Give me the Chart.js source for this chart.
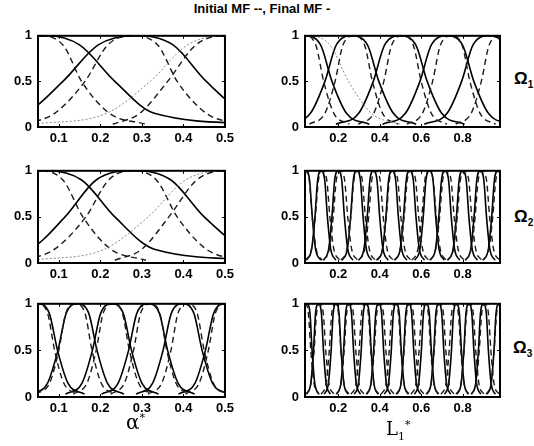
<!DOCTYPE html>
<html>
<head>
<meta charset="utf-8">
<script src="https://cdn.jsdelivr.net/npm/chart.js@4.4.1/dist/chart.umd.min.js"></script>
<style>
  body { margin: 0; background: #fff; }
  #fig { position: relative; width: 534px; height: 446px; overflow: hidden; font-family: 'Liberation Sans', Arial, sans-serif; color: #000; }
  #fig canvas { position: absolute; }
  .lbl { position: absolute; white-space: nowrap; line-height: 1; }
  .omega { font-size: 17px; font-weight: bold; }
  .omega sub { font-size: 10px; }
</style>
</head>
<body>
<div id="fig">
  <div class="lbl" style="left:0;width:524px;top:2px;text-align:center;font-size:13px;font-weight:bold">Initial MF --, Final MF -</div>

  <canvas id="o1-alpha"></canvas>
  <canvas id="o1-l"></canvas>
  <canvas id="o2-alpha"></canvas>
  <canvas id="o2-l"></canvas>
  <canvas id="o3-alpha"></canvas>
  <canvas id="o3-l"></canvas>

  <div class="lbl omega" style="left:514px;top:70px">Ω<sub>1</sub></div>
  <div class="lbl omega" style="left:514px;top:208px">Ω<sub>2</sub></div>
  <div class="lbl omega" style="left:513px;top:339px">Ω<sub>3</sub></div>

  <div class="lbl" style="left:126px;top:412px;font-size:20px;font-family:'DejaVu Serif',serif">α<sup style="font-size:11px">*</sup></div>
  <div class="lbl" style="left:386px;top:419px;font-size:18px;font-family:'DejaVu Serif',serif">L<sub style="font-size:11px">1</sub><sup style="font-size:11px">*</sup></div>
</div>

<script>
// membership grade at which each curve's x-values below were read
const MU_LEVELS = [0.03, 0.15, 0.5, 0.9, 1, 0.9, 0.5, 0.15, 0.03];

const muTicks    = [0, 0.5, 1];
const alphaTicks = [0.1, 0.2, 0.3, 0.4, 0.5];
const lTicks     = [0.2, 0.4, 0.6, 0.8];

// ── Ω1 ─────────────────────────────
const o1AlphaFinal = [
  [-0.44, -0.2, -0.1, -0.02, 0.07, 0.15, 0.235, 0.33, 0.6],
  [-0.15, 0.02, 0.11, 0.195, 0.285, 0.375, 0.455, 0.55, 0.72],
];
const o1AlphaGray = [
  [0.04, 0.215, 0.32, 0.41, 0.5, 0.59, 0.68, 0.785, 0.96],
];
const o1AlphaInit = [
  [-0.21, -0.122, -0.055, -0.01, 0.05, 0.11, 0.155, 0.222, 0.31],
  [0.02, 0.09, 0.163, 0.218, 0.275, 0.338, 0.385, 0.455, 0.53],
  [0.23, 0.295, 0.362, 0.43, 0.5, 0.57, 0.638, 0.705, 0.77],
];

const o1LFinal = [
  [-0.27, -0.16, -0.09, -0.035, 0.04, 0.115, 0.17, 0.24, 0.35],
  [-0.044, 0.066, 0.136, 0.191, 0.266, 0.341, 0.396, 0.466, 0.576],
  [0.189, 0.299, 0.369, 0.424, 0.499, 0.574, 0.629, 0.699, 0.809],
  [0.414, 0.524, 0.594, 0.649, 0.724, 0.799, 0.854, 0.924, 1.034],
  [0.615, 0.725, 0.795, 0.85, 0.925, 1.0, 1.055, 1.125, 1.235],
];
const o1LGray = [
  [-0.47, -0.29, -0.17, -0.08, 0.05, 0.16, 0.25, 0.36, 0.5],
];
const o1LInit = [
  [-0.174, -0.099, -0.05, -0.012, 0.04, 0.092, 0.13, 0.179, 0.254],
  [0.061, 0.136, 0.185, 0.223, 0.275, 0.327, 0.365, 0.414, 0.489],
  [0.296, 0.371, 0.42, 0.458, 0.51, 0.562, 0.6, 0.649, 0.724],
  [0.531, 0.606, 0.655, 0.693, 0.745, 0.797, 0.835, 0.884, 0.959],
  [0.766, 0.841, 0.89, 0.928, 0.98, 1.032, 1.07, 1.119, 1.194],
];

// ── Ω2 ─────────────────────────────
const o2AlphaFinal = [
  [-0.45, -0.2, -0.1, -0.02, 0.07, 0.155, 0.235, 0.33, 0.6],
  [-0.14, 0.03, 0.115, 0.19, 0.28, 0.37, 0.45, 0.55, 0.72],
];
const o2AlphaGray = [
  [0.04, 0.21, 0.315, 0.405, 0.5, 0.595, 0.685, 0.79, 0.96],
];
const o2AlphaInit = [
  [-0.2, -0.115, -0.05, -0.005, 0.05, 0.11, 0.158, 0.225, 0.31],
  [0.02, 0.09, 0.165, 0.22, 0.275, 0.335, 0.385, 0.455, 0.53],
  [0.235, 0.3, 0.365, 0.432, 0.5, 0.568, 0.635, 0.7, 0.765],
];

const o2LFinal = [
  [-0.026, -0.001, 0.015, 0.028, 0.045, 0.062, 0.075, 0.091, 0.116],
  [0.047, 0.072, 0.088, 0.101, 0.118, 0.135, 0.148, 0.164, 0.189],
  [0.129, 0.154, 0.17, 0.183, 0.2, 0.217, 0.23, 0.246, 0.271],
  [0.219, 0.244, 0.26, 0.273, 0.29, 0.307, 0.32, 0.336, 0.361],
  [0.299, 0.324, 0.34, 0.353, 0.37, 0.387, 0.4, 0.416, 0.441],
  [0.389, 0.414, 0.43, 0.443, 0.46, 0.477, 0.49, 0.506, 0.531],
  [0.474, 0.499, 0.515, 0.528, 0.545, 0.562, 0.575, 0.591, 0.616],
  [0.569, 0.594, 0.61, 0.623, 0.64, 0.657, 0.67, 0.686, 0.711],
  [0.644, 0.669, 0.685, 0.698, 0.715, 0.732, 0.745, 0.761, 0.786],
  [0.729, 0.754, 0.77, 0.783, 0.8, 0.817, 0.83, 0.846, 0.871],
  [0.814, 0.839, 0.855, 0.868, 0.885, 0.902, 0.915, 0.931, 0.956],
  [0.899, 0.924, 0.94, 0.953, 0.97, 0.987, 1.0, 1.016, 1.041],
];
const o2LInit = [
  [-0.043, -0.014, 0.005, 0.02, 0.04, 0.06, 0.075, 0.094, 0.123],
  [0.042, 0.071, 0.09, 0.105, 0.125, 0.145, 0.16, 0.179, 0.208],
  [0.128, 0.157, 0.176, 0.191, 0.211, 0.231, 0.246, 0.265, 0.294],
  [0.213, 0.242, 0.261, 0.276, 0.296, 0.316, 0.331, 0.35, 0.379],
  [0.299, 0.328, 0.347, 0.362, 0.382, 0.402, 0.417, 0.436, 0.465],
  [0.384, 0.413, 0.432, 0.447, 0.467, 0.487, 0.502, 0.521, 0.55],
  [0.47, 0.499, 0.518, 0.533, 0.553, 0.573, 0.588, 0.607, 0.636],
  [0.555, 0.584, 0.603, 0.618, 0.638, 0.658, 0.673, 0.692, 0.721],
  [0.641, 0.67, 0.689, 0.704, 0.724, 0.744, 0.759, 0.778, 0.807],
  [0.726, 0.755, 0.774, 0.789, 0.809, 0.829, 0.844, 0.863, 0.892],
  [0.812, 0.841, 0.86, 0.875, 0.895, 0.915, 0.93, 0.949, 0.978],
  [0.897, 0.926, 0.945, 0.96, 0.98, 1.0, 1.015, 1.034, 1.063],
];

// ── Ω3 ─────────────────────────────
const o3AlphaFinal = [
  [-0.062, -0.022, 0.003, 0.023, 0.05, 0.077, 0.097, 0.122, 0.162],
  [0.033, 0.073, 0.098, 0.118, 0.145, 0.172, 0.192, 0.217, 0.257],
  [0.116, 0.156, 0.181, 0.201, 0.228, 0.255, 0.275, 0.3, 0.34],
  [0.203, 0.243, 0.268, 0.288, 0.315, 0.342, 0.362, 0.387, 0.427],
  [0.286, 0.326, 0.351, 0.371, 0.398, 0.425, 0.445, 0.47, 0.51],
  [0.388, 0.428, 0.453, 0.473, 0.5, 0.527, 0.547, 0.572, 0.612],
];
const o3AlphaInit = [
  [-0.045, -0.012, 0.01, 0.027, 0.05, 0.073, 0.09, 0.112, 0.145],
  [0.045, 0.078, 0.1, 0.117, 0.14, 0.163, 0.18, 0.202, 0.235],
  [0.135, 0.168, 0.19, 0.207, 0.23, 0.253, 0.27, 0.292, 0.325],
  [0.225, 0.258, 0.28, 0.297, 0.32, 0.343, 0.36, 0.382, 0.415],
  [0.315, 0.348, 0.37, 0.387, 0.41, 0.433, 0.45, 0.472, 0.505],
  [0.405, 0.438, 0.46, 0.477, 0.5, 0.523, 0.54, 0.562, 0.595],
];

const o3LFinal = [
  [-0.007, 0.013, 0.026, 0.036, 0.05, 0.064, 0.074, 0.087, 0.107],
  [0.048, 0.068, 0.081, 0.091, 0.105, 0.119, 0.129, 0.142, 0.162],
  [0.133, 0.153, 0.166, 0.176, 0.19, 0.204, 0.214, 0.227, 0.247],
  [0.193, 0.213, 0.226, 0.236, 0.25, 0.264, 0.274, 0.287, 0.307],
  [0.278, 0.298, 0.311, 0.321, 0.335, 0.349, 0.359, 0.372, 0.392],
  [0.338, 0.358, 0.371, 0.381, 0.395, 0.409, 0.419, 0.432, 0.452],
  [0.423, 0.443, 0.456, 0.466, 0.48, 0.494, 0.504, 0.517, 0.537],
  [0.483, 0.503, 0.516, 0.526, 0.54, 0.554, 0.564, 0.577, 0.597],
  [0.568, 0.588, 0.601, 0.611, 0.625, 0.639, 0.649, 0.662, 0.682],
  [0.628, 0.648, 0.661, 0.671, 0.685, 0.699, 0.709, 0.722, 0.742],
  [0.713, 0.733, 0.746, 0.756, 0.77, 0.784, 0.794, 0.807, 0.827],
  [0.773, 0.793, 0.806, 0.816, 0.83, 0.844, 0.854, 0.867, 0.887],
  [0.843, 0.863, 0.876, 0.886, 0.9, 0.914, 0.924, 0.937, 0.957],
  [0.918, 0.938, 0.951, 0.961, 0.975, 0.989, 0.999, 1.012, 1.032],
];
const o3LInit = [
  [-0.027, -0.003, 0.012, 0.024, 0.04, 0.056, 0.068, 0.083, 0.107],
  [0.045, 0.069, 0.084, 0.096, 0.112, 0.128, 0.14, 0.155, 0.179],
  [0.118, 0.142, 0.157, 0.169, 0.185, 0.201, 0.213, 0.228, 0.252],
  [0.19, 0.214, 0.229, 0.241, 0.257, 0.273, 0.285, 0.3, 0.324],
  [0.262, 0.286, 0.301, 0.313, 0.329, 0.345, 0.357, 0.372, 0.396],
  [0.335, 0.359, 0.374, 0.386, 0.402, 0.418, 0.43, 0.445, 0.469],
  [0.407, 0.431, 0.446, 0.458, 0.474, 0.49, 0.502, 0.517, 0.541],
  [0.479, 0.503, 0.518, 0.53, 0.546, 0.562, 0.574, 0.589, 0.613],
  [0.551, 0.575, 0.59, 0.602, 0.618, 0.634, 0.646, 0.661, 0.685],
  [0.624, 0.648, 0.663, 0.675, 0.691, 0.707, 0.719, 0.734, 0.758],
  [0.696, 0.72, 0.735, 0.747, 0.763, 0.779, 0.791, 0.806, 0.83],
  [0.768, 0.792, 0.807, 0.819, 0.835, 0.851, 0.863, 0.878, 0.902],
  [0.841, 0.865, 0.88, 0.892, 0.908, 0.924, 0.936, 0.951, 0.975],
  [0.913, 0.937, 0.952, 0.964, 0.98, 0.996, 1.008, 1.023, 1.047],
];

const STYLES = {
  final: { borderColor: '#000', borderWidth: 1.6, borderDash: [] },
  init:  { borderColor: '#1a1a1a', borderWidth: 1.4, borderDash: [6, 4] },
  gray:  { borderColor: '#888', borderWidth: 1, borderDash: [2, 2] },
};

function curves(list, kind) {
  return list.map(xs => ({
    data: xs.map((x, i) => ({ x, y: MU_LEVELS[i] })),
    ...STYLES[kind],
    pointRadius: 0,
    fill: false,
    clip: 0,
    cubicInterpolationMode: 'monotone',
  }));
}

// box around the axes + inward tick marks, matlab style
const framePlugin = {
  id: 'frame',
  afterDatasetsDraw(chart) {
    const { ctx, chartArea: a, scales } = chart;
    ctx.save();
    ctx.setLineDash([]);
    ctx.strokeStyle = '#000';
    ctx.lineWidth = 1;
    scales.x.ticks.forEach(t => {
      const px = Math.round(scales.x.getPixelForValue(t.value)) + 0.5;
      ctx.beginPath();
      ctx.moveTo(px, a.bottom); ctx.lineTo(px, a.bottom - 3);
      ctx.moveTo(px, a.top);    ctx.lineTo(px, a.top + 3);
      ctx.stroke();
    });
    scales.y.ticks.forEach(t => {
      const py = Math.round(scales.y.getPixelForValue(t.value)) + 0.5;
      ctx.beginPath();
      ctx.moveTo(a.left, py);  ctx.lineTo(a.left + 3, py);
      ctx.moveTo(a.right, py); ctx.lineTo(a.right - 3, py);
      ctx.stroke();
    });
    ctx.lineWidth = 2;
    ctx.strokeRect(a.left, a.top, a.right - a.left, a.bottom - a.top);
    ctx.restore();
  }
};

const Y_AXIS_W = 38, X_AXIS_H = 20, PAD = 6;
const tickFont = { family: "'Liberation Sans', Arial, sans-serif", size: 13, weight: 'bold' };

function makePanel(id, box, xRange, xTicks, datasets) {
  const cv = document.getElementById(id);
  cv.width  = box.r - box.l + Y_AXIS_W + PAD;
  cv.height = box.b - box.t + PAD + X_AXIS_H;
  cv.style.left = (box.l - Y_AXIS_W) + 'px';
  cv.style.top  = (box.t - PAD) + 'px';

  new Chart(cv.getContext('2d'), {
    type: 'line',
    data: { datasets },
    options: {
      responsive: false,
      animation: false,
      devicePixelRatio: 1,
      layout: { padding: { top: PAD, right: PAD, left: 0, bottom: 0 } },
      plugins: { legend: { display: false }, tooltip: { enabled: false } },
      scales: {
        x: {
          type: 'linear', min: xRange[0], max: xRange[1],
          afterBuildTicks: ax => { ax.ticks = xTicks.map(v => ({ value: v })); },
          afterFit: s => { s.height = X_AXIS_H; },
          grid: { display: false, drawTicks: false },
          border: { display: false },
          ticks: { color: '#000', font: tickFont, padding: 4, maxRotation: 0, callback: v => String(v) },
        },
        y: {
          type: 'linear', min: 0, max: 1,
          afterBuildTicks: ax => { ax.ticks = muTicks.map(v => ({ value: v })); },
          afterFit: s => { s.width = Y_AXIS_W; },
          grid: { display: false, drawTicks: false },
          border: { display: false },
          ticks: { color: '#000', font: tickFont, padding: 6, callback: v => String(v) },
        }
      }
    },
    plugins: [framePlugin]
  });
}

const LEFT  = { l: 38,  r: 232 };
const RIGHT = { l: 305, r: 500 };
const ROWS  = [{ t: 28, b: 127 }, { t: 163, b: 263 }, { t: 296, b: 397 }];
const alphaRange = [0.05, 0.5];
const lRange     = [0.04, 0.98];

makePanel('o1-alpha', { ...LEFT, ...ROWS[0] }, alphaRange, alphaTicks,
  [...curves(o1AlphaGray, 'gray'), ...curves(o1AlphaInit, 'init'), ...curves(o1AlphaFinal, 'final')]);
makePanel('o1-l', { ...RIGHT, ...ROWS[0] }, lRange, lTicks,
  [...curves(o1LGray, 'gray'), ...curves(o1LInit, 'init'), ...curves(o1LFinal, 'final')]);
makePanel('o2-alpha', { ...LEFT, ...ROWS[1] }, alphaRange, alphaTicks,
  [...curves(o2AlphaGray, 'gray'), ...curves(o2AlphaInit, 'init'), ...curves(o2AlphaFinal, 'final')]);
makePanel('o2-l', { ...RIGHT, ...ROWS[1] }, lRange, lTicks,
  [...curves(o2LInit, 'init'), ...curves(o2LFinal, 'final')]);
makePanel('o3-alpha', { ...LEFT, ...ROWS[2] }, alphaRange, alphaTicks,
  [...curves(o3AlphaInit, 'init'), ...curves(o3AlphaFinal, 'final')]);
makePanel('o3-l', { ...RIGHT, ...ROWS[2] }, lRange, lTicks,
  [...curves(o3LInit, 'init'), ...curves(o3LFinal, 'final')]);
</script>
</body>
</html>
